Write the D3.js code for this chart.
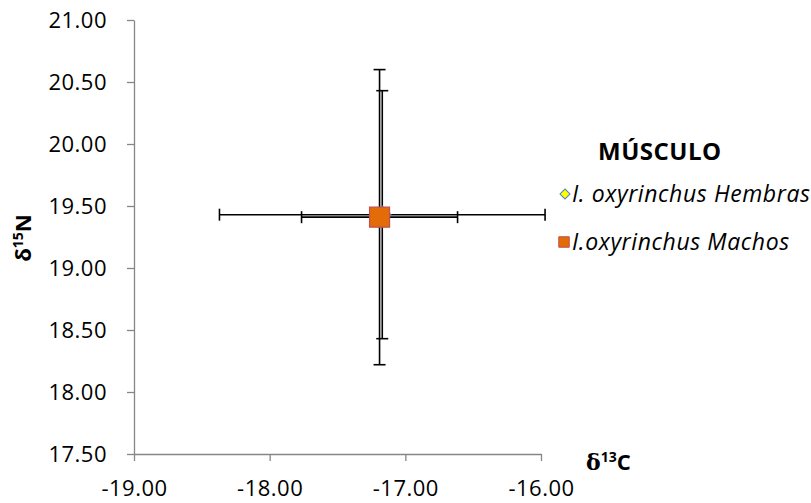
<!DOCTYPE html>
<html lang="es">
<head>
    <meta charset="UTF-8">
    <title>Músculo δ13C / δ15N</title>
    <script src="https://d3js.org/d3.v7.min.js"></script>
    <style>
        body { margin: 0; background: #fff; }
        svg { display: block; font-family: "Open Sans", Lato, sans-serif; }
        .tick-label { font-size: 22px; letter-spacing: 0.5px; fill: #000; }
        .axis-title { font-size: 22px; font-weight: bold; }
        .legend-title { font-size: 24px; font-weight: bold; letter-spacing: 0.5px; }
        .legend-item { font-size: 23px; font-style: italic; letter-spacing: 0.6px; }
    </style>
</head>
<body>
    <div id="chart"></div>

    <script>
        // data
        const categories = ["I. oxyrinchus Hembras", "I.oxyrinchus Machos"];
        const meanC = [-17.17, -17.19];
        const meanN = [19.43, 19.41];
        const sdC = [1.2, 0.575];
        const sdN = [1.0, 1.19];
        const xTicks = [-19, -18, -17, -16];
        const yTicks = [17.5, 18, 18.5, 19, 19.5, 20, 20.5, 21];

        const width = 811, height = 503;
        const margin = { top: 20, right: 270, bottom: 49, left: 134 };

        const svg = d3.select("#chart").append("svg")
            .attr("width", width)
            .attr("height", height);

        const x = d3.scaleLinear()
            .domain([-19, -16])
            .range([margin.left, width - margin.right]);

        const y = d3.scaleLinear()
            .domain([17.5, 21])
            .range([height - margin.bottom, margin.top]);

        // plain hyphen for negatives, like the original
        const fmt = d => d3.format(".2f")(d).replace("\u2212", "-");
        const axisColor = "#868686";

        // x axis
        const gx = svg.append("g")
            .attr("transform", `translate(0, ${y(17.5)})`)
            .call(d3.axisBottom(x).tickValues(xTicks).tickFormat(fmt).tickSize(7).tickSizeOuter(0).tickPadding(19));
        // y axis
        const gy = svg.append("g")
            .attr("transform", `translate(${x(-19)}, 0)`)
            .call(d3.axisLeft(y).tickValues(yTicks).tickFormat(fmt).tickSize(7).tickSizeOuter(0).tickPadding(20));

        [gx, gy].forEach(g => {
            g.attr("font-family", null).attr("font-size", null);
            g.select(".domain").attr("stroke", axisColor).attr("stroke-width", 1.3);
            g.selectAll(".tick line").attr("stroke", axisColor).attr("stroke-width", 1.3);
            g.selectAll(".tick text").attr("class", "tick-label");
        });

        // axis titles
        const yTitle = svg.append("text")
            .attr("class", "axis-title")
            .attr("text-anchor", "middle")
            .attr("transform", `translate(31, 238) rotate(-90)`);
        yTitle.append("tspan").text("δ");
        yTitle.append("tspan").attr("font-size", 14).attr("dy", -8).text("15");
        yTitle.append("tspan").attr("dy", 8).text("N");

        const xTitle = svg.append("text")
            .attr("class", "axis-title")
            .attr("x", 586)
            .attr("y", 470);
        xTitle.append("tspan").attr("font-family", "DejaVu Serif").text("δ");
        xTitle.append("tspan").attr("font-size", 14).attr("dy", -8).text("13");
        xTitle.append("tspan").attr("dy", 8).text("C");

        // error bars + markers
        const cap = 6;
        const marks = [
            { fill: "#FFFF00", stroke: "#4F81BD", rot: 45, size: 150 },
            { fill: "#E36C09", stroke: "#C0504D", rot: 0, size: 400 }
        ];

        categories.forEach((c, i) => {
            const g = svg.append("g").attr("stroke", "#000").attr("stroke-width", 1.6);
            const cx = x(meanC[i]), cy = y(meanN[i]);
            const y0 = y(meanN[i] - sdN[i]), y1 = y(meanN[i] + sdN[i]);
            const x0 = x(meanC[i] - sdC[i]), x1 = x(meanC[i] + sdC[i]);

            g.append("line").attr("x1", cx).attr("x2", cx).attr("y1", y0).attr("y2", y1);
            g.append("line").attr("x1", cx - cap).attr("x2", cx + cap).attr("y1", y0).attr("y2", y0);
            g.append("line").attr("x1", cx - cap).attr("x2", cx + cap).attr("y1", y1).attr("y2", y1);

            g.append("line").attr("x1", x0).attr("x2", x1).attr("y1", cy).attr("y2", cy);
            g.append("line").attr("x1", x0).attr("x2", x0).attr("y1", cy - cap).attr("y2", cy + cap);
            g.append("line").attr("x1", x1).attr("x2", x1).attr("y1", cy - cap).attr("y2", cy + cap);
        });

        categories.forEach((c, i) => {
            svg.append("path")
                .attr("d", d3.symbol().type(d3.symbolSquare).size(marks[i].size)())
                .attr("transform", `translate(${x(meanC[i])}, ${y(meanN[i])}) rotate(${marks[i].rot})`)
                .attr("fill", marks[i].fill)
                .attr("stroke", marks[i].stroke)
                .attr("stroke-width", 1.2);
        });

        // legend
        svg.append("text")
            .attr("class", "legend-title")
            .attr("x", 598)
            .attr("y", 160)
            .text("MÚSCULO");

        const legendY = [194, 242];
        const legendSize = [50, 110];
        categories.forEach((c, i) => {
            svg.append("path")
                .attr("d", d3.symbol().type(d3.symbolSquare).size(legendSize[i])())
                .attr("transform", `translate(${i === 0 ? 565 : 564}, ${legendY[i]}) rotate(${marks[i].rot})`)
                .attr("fill", marks[i].fill)
                .attr("stroke", marks[i].stroke)
                .attr("stroke-width", 1);
            svg.append("text")
                .attr("class", "legend-item")
                .attr("x", 572)
                .attr("y", legendY[i])
                .attr("dy", "0.35em")
                .text(c);
        });
    </script>
</body>
</html>
